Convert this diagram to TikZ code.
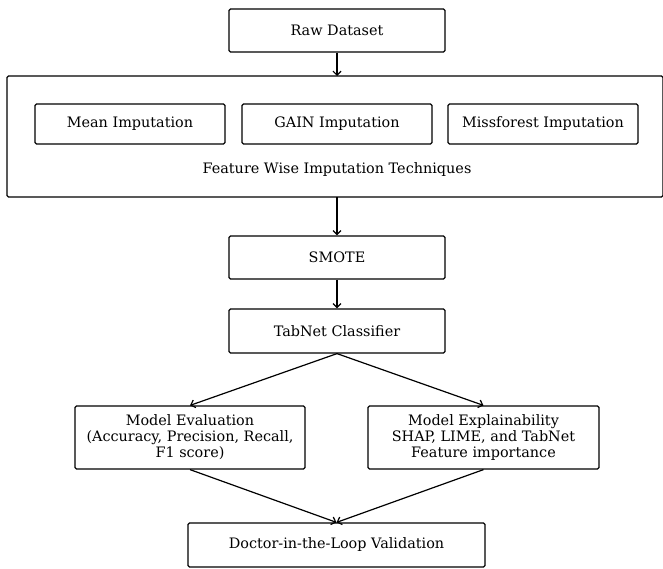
\documentclass[tikz,border=0pt]{standalone}
\usepackage{fontspec}
\setmainfont{DejaVu Serif}
\usetikzlibrary{arrows.meta}
\begin{document}
\begin{tikzpicture}[x=1pt,y=-1pt,
  txt/.style={font=\fontsize{14.4}{16}\selectfont},
  box/.style={draw,line width=1.2pt,rounded corners=1.5pt,inner sep=0pt,align=center,txt},
  arr/.style={-{Straight Barb[length=4pt,width=8pt,line width=1.2pt]},line width=1.2pt}]
\useasboundingbox (0,0) rectangle (663,568);
\begin{scope}
\clip (0,0) rectangle (663,568);
\node[box,minimum width=656pt,minimum height=121pt] (fw) at (335,136.5) {};
\end{scope}
\node[box,minimum width=216pt,minimum height=43pt] (raw) at (337,30.5) {Raw Dataset};
\node[box,minimum width=190pt,minimum height=40pt] (mean) at (130,124) {Mean Imputation};
\node[box,minimum width=190pt,minimum height=40pt] (gain) at (337,124) {GAIN Imputation};
\node[box,minimum width=190pt,minimum height=40pt] (miss) at (543,124) {Missforest Imputation};
\node[txt] (fwl) at (337,170) {Feature Wise Imputation Techniques};
\node[box,minimum width=216pt,minimum height=43pt] (smote) at (337,257.5) {SMOTE};
\node[box,minimum width=216pt,minimum height=44pt] (tab) at (337,331) {TabNet Classifier};
\node[box,minimum width=230pt,minimum height=63pt] (eval) at (190,437.5) {Model Evaluation\\(Accuracy, Precision, Recall,\\F1 score)};
\node[box,minimum width=231pt,minimum height=63pt] (expl) at (483.5,437.5) {Model Explainability\\SHAP, LIME, and TabNet\\Feature importance};
\node[box,minimum width=297pt,minimum height=44pt] (doc) at (336.5,545) {Doctor-in-the-Loop Validation};
\coordinate (fwtop) at (337,76);
\coordinate (fwbot) at (337,197);
\draw[arr] (raw.south) -- (fwtop);
\draw[arr] (fwbot) -- (smote.north);
\draw[arr] (smote) -- (tab);
\draw[arr] (tab.south) -- (eval.north);
\draw[arr] (tab.south) -- (expl.north);
\draw[arr] (eval.south) -- (doc.north);
\draw[arr] (expl.south) -- (doc.north);
\end{tikzpicture}
\end{document}
